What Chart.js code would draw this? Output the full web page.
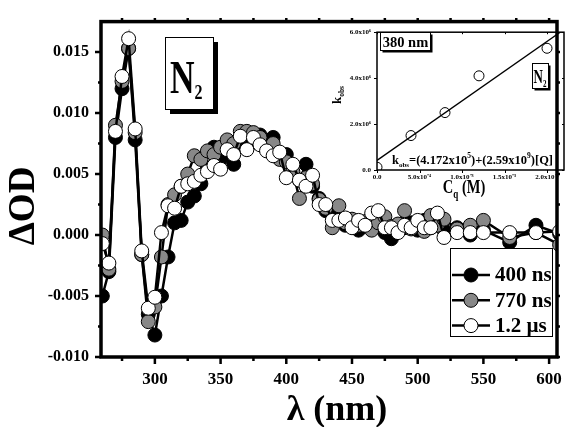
<!DOCTYPE html>
<html lang="en">
<head>
<meta charset="UTF-8">
<title>Transient absorption in N2</title>
<script src="https://cdn.jsdelivr.net/npm/chart.js"></script>
<style>
  * { margin: 0; padding: 0; box-sizing: border-box; }
  body { background: #fff; width: 574px; height: 427px; overflow: hidden; }
  .wrap { position: relative; width: 574px; height: 427px; }
  #spectra { position: absolute; left: 0; top: 0; }
  #kinetics { position: absolute; left: 330px; top: 22px; }
</style>
</head>
<body>
<div class="wrap">
  <canvas id="spectra" width="574" height="427"></canvas>
  <canvas id="kinetics" width="240" height="180"></canvas>
</div>
<script>
const SERIF = "'Liberation Serif', 'Times New Roman', serif";

// transient spectra, wavelength in nm
const wavelengths = [
  260, 265, 270, 275, 280, 285, 290, 295, 300, 305,
  310, 315, 320, 325, 330, 335, 340, 345, 350, 355,
  360, 365, 370, 375, 380, 385, 390, 395, 400, 405,
  410, 415, 420, 425, 430, 435, 440, 445, 450, 455,
  460, 465, 470, 475, 480, 485, 490, 495, 500, 505,
  510, 515, 520, 530, 540, 550, 570, 590, 608
];
const od400ns = [
  -0.0050, -0.0030, 0.0080, 0.0120, 0.0153, 0.0078, -0.0016, -0.0065, -0.0082, -0.0050,
  -0.0018, 0.0010, 0.0012, 0.0027, 0.0032, 0.0042, 0.0055, 0.0072, 0.0062, 0.0066,
  0.0058, 0.0074, 0.0078, 0.0076, 0.0082, 0.0077, 0.0080, 0.0064, 0.0066, 0.0050,
  0.0045, 0.0058, 0.0040, 0.0030, 0.0020, 0.0018, 0.0012, 0.0008, 0.0012, 0.0004,
  0.0010, 0.0006, 0.0013, 0.0002, -0.0003, 0.0008, 0.0006, 0.0010, 0.0004, 0.0012,
  0.0006, 0.0010, 0.0004, 0.0006, 0.0000, 0.0004, -0.0006, 0.0008, 0.0001
];
const od770ns = [
  0.0000, -0.0028, 0.0090, 0.0126, 0.0153, 0.0084, -0.0016, -0.0071, -0.0059, -0.0018,
  0.0025, 0.0033, 0.0040, 0.0050, 0.0065, 0.0062, 0.0069, 0.0066, 0.0072, 0.0078,
  0.0075, 0.0085, 0.0085, 0.0084, 0.0080, 0.0070, 0.0075, 0.0062, 0.0060, 0.0052,
  0.0030, 0.0047, 0.0042, 0.0029, 0.0022, 0.0006, 0.0024, 0.0010, 0.0013, 0.0008,
  0.0011, 0.0004, 0.0010, 0.0015, 0.0007, 0.0009, 0.0020, 0.0005, 0.0010, 0.0003,
  0.0016, 0.0008, 0.0013, 0.0005, 0.0008, 0.0012, -0.0002, 0.0002, -0.0008
];
const od1200ns = [
  -0.0007, -0.0023, 0.0085, 0.0130, 0.0161, 0.0087, -0.0013, -0.0060, -0.0051, 0.0002,
  0.0024, 0.0022, 0.0040, 0.0042, 0.0044, 0.0049, 0.0052, 0.0057, 0.0054, 0.0070,
  0.0066, 0.0081, 0.0070, 0.0080, 0.0074, 0.0069, 0.0065, 0.0068, 0.0047, 0.0058,
  0.0045, 0.0040, 0.0049, 0.0025, 0.0025, 0.0012, 0.0012, 0.0014, 0.0006, 0.0012,
  0.0008, 0.0018, 0.0020, 0.0006, 0.0006, 0.0002, 0.0008, 0.0006, 0.0012, 0.0006,
  0.0006, 0.0018, -0.0002, 0.0002, 0.0002, 0.0002, 0.0002, 0.0002, 0.0003
];

const seriesLabels = ['400 ns', '770 ns', '1.2 µs'];
const seriesFill = ['#000000', '#888888', '#ffffff'];

const xTicks = [300, 350, 400, 450, 500, 550, 600];
const xMinorTicks = [275, 325, 375, 425, 475, 525, 575];
const yTicks = [-0.010, -0.005, 0.000, 0.005, 0.010, 0.015];
const yMinorTicks = [-0.0075, -0.0025, 0.0025, 0.0075, 0.0125];

// inset: observed rate constant vs quencher concentration
const quencherConc = [0, 4.0e-4, 8.0e-4, 1.2e-3, 2.0e-3];
const kObs = [1.2e5, 1.5e6, 2.5e6, 4.1e6, 5.3e6];
const fitIntercept = 4.172e5;
const fitSlope = 2.59e9;
const insetXTicks = [0, 5e-4, 1e-3, 1.5e-3, 2e-3];
const insetXLabels = ['0.0', '5.0x10⁻⁴', '1.0x10⁻³', '1.5x10⁻³', '2.0x10⁻³'];
const insetYTicks = [0, 2e6, 4e6, 6e6];
const insetYLabels = ['0.0', '2.0x10⁶', '4.0x10⁶', '6.0x10⁶'];

// draws a run of text pieces (sub/superscripts) left to right
function drawParts(ctx, parts, x, y, center) {
  let total = 0;
  parts.forEach(p => {
    ctx.font = `${p.weight || 'bold'} ${p.size}px ${SERIF}`;
    p.width = ctx.measureText(p.t).width;
    total += p.width;
  });
  let cx = center ? x - total / 2 : x;
  parts.forEach(p => {
    ctx.font = `${p.weight || 'bold'} ${p.size}px ${SERIF}`;
    ctx.fillText(p.t, cx, y + (p.dy || 0));
    cx += p.width;
  });
}

function boxWithShadow(ctx, x, y, w, h, off) {
  ctx.fillStyle = '#000';
  ctx.fillRect(x + off, y + off, w, h);
  ctx.fillStyle = '#fff';
  ctx.fillRect(x, y, w, h);
  ctx.lineWidth = 1;
  ctx.strokeStyle = '#000';
  ctx.strokeRect(x + 0.5, y + 0.5, w, h);
}

const spectraDecor = {
  id: 'spectraDecor',
  afterDraw(chart) {
    const { ctx, chartArea: a, scales: { x, y } } = chart;
    ctx.save();
    ctx.strokeStyle = '#000';
    ctx.lineWidth = 2.5;
    ctx.beginPath();
    xTicks.forEach(v => {
      const px = x.getPixelForValue(v);
      ctx.moveTo(px, a.bottom); ctx.lineTo(px, a.bottom + 7);
      ctx.moveTo(px, a.top); ctx.lineTo(px, a.top - 3.5);
    });
    xMinorTicks.forEach(v => {
      const px = x.getPixelForValue(v);
      ctx.moveTo(px, a.bottom); ctx.lineTo(px, a.bottom + 4);
      ctx.moveTo(px, a.top); ctx.lineTo(px, a.top - 3.5);
    });
    yTicks.forEach(v => {
      const py = y.getPixelForValue(v);
      ctx.moveTo(a.left, py); ctx.lineTo(a.left - 6, py);
      ctx.moveTo(a.right, py); ctx.lineTo(a.right + 3, py);
    });
    yMinorTicks.forEach(v => {
      const py = y.getPixelForValue(v);
      ctx.moveTo(a.left, py); ctx.lineTo(a.left - 3, py);
      ctx.moveTo(a.right, py); ctx.lineTo(a.right + 3, py);
    });
    ctx.stroke();

    ctx.lineWidth = 3.5;
    ctx.strokeRect(a.left, a.top, a.right - a.left, a.bottom - a.top);

    // axis titles
    ctx.fillStyle = '#000';
    ctx.textAlign = 'center';
    ctx.textBaseline = 'middle';
    ctx.save();
    ctx.translate(24, 206);
    ctx.rotate(-Math.PI / 2);
    ctx.font = `bold 37px ${SERIF}`;
    ctx.fillText('ΔOD', 0, 0);
    ctx.restore();
    ctx.textBaseline = 'alphabetic';
    ctx.font = `bold 36px ${SERIF}`;
    ctx.fillText('λ (nm)', 337, 420);

    // N2 label
    ctx.textAlign = 'left';
    boxWithShadow(ctx, 165, 37, 48, 72, 5);
    ctx.fillStyle = '#000';
    ctx.save();
    ctx.translate(170, 93);
    ctx.scale(1, 1.35);
    drawParts(ctx, [
      { t: 'N', size: 34 },
      { t: '2', size: 16, dy: 4.5 }
    ], 0, 0, false);
    ctx.restore();

    // legend
    ctx.fillStyle = '#fff';
    ctx.fillRect(450, 248, 103, 89);
    ctx.lineWidth = 1;
    ctx.strokeRect(450.5, 248.5, 102, 88);
    chart.data.datasets.forEach((ds, i) => {
      const ly = 275 + 25.3 * i;
      ctx.strokeStyle = '#000';
      ctx.lineWidth = 2.5;
      ctx.beginPath();
      ctx.moveTo(452, ly); ctx.lineTo(490, ly);
      ctx.stroke();
      ctx.beginPath();
      ctx.arc(471, ly, 7, 0, Math.PI * 2);
      ctx.fillStyle = ds.pointBackgroundColor;
      ctx.fill();
      ctx.lineWidth = 1;
      ctx.stroke();
      ctx.fillStyle = '#000';
      ctx.textBaseline = 'middle';
      ctx.font = `bold 21px ${SERIF}`;
      ctx.fillText(ds.label, 495, ly + 1);
    });
    ctx.restore();
  }
};

const series = [od400ns, od770ns, od1200ns];
new Chart(document.getElementById('spectra'), {
  type: 'line',
  data: {
    datasets: series.map((vals, i) => ({
      label: seriesLabels[i],
      data: wavelengths.map((w, j) => ({ x: w, y: vals[j] })),
      order: 3 - i,
      borderColor: '#000',
      borderWidth: 2.5,
      pointRadius: 7,
      pointBorderWidth: 1,
      pointBorderColor: '#000',
      pointBackgroundColor: seriesFill[i],
      tension: 0
    }))
  },
  options: {
    responsive: false,
    animation: false,
    devicePixelRatio: 1,
    layout: { padding: { left: 0, top: 14, right: 5, bottom: 0 } },
    plugins: { legend: { display: false }, tooltip: { enabled: false } },
    scales: {
      x: {
        type: 'linear',
        min: 259,
        max: 606,
        afterBuildTicks: s => { s.ticks = xTicks.map(v => ({ value: v })); },
        afterFit: s => { s.height = 70; },
        grid: { display: false, drawTicks: false },
        border: { display: false },
        ticks: { color: '#000', padding: 12, maxRotation: 0, font: { family: SERIF, size: 17, weight: 'bold' } }
      },
      y: {
        min: -0.010,
        max: 0.0175,
        afterBuildTicks: s => { s.ticks = yTicks.map(v => ({ value: v })); },
        afterFit: s => { s.width = 101; },
        grid: { display: false, drawTicks: false },
        border: { display: false },
        ticks: {
          color: '#000',
          padding: 12,
          font: { family: SERIF, size: 16, weight: 'bold' },
          callback: v => v.toFixed(3)
        }
      }
    }
  },
  plugins: [spectraDecor]
});

const kineticsDecor = {
  id: 'kineticsDecor',
  afterDraw(chart) {
    const { ctx, chartArea: a, scales: { x, y } } = chart;
    ctx.save();
    ctx.strokeStyle = '#000';
    ctx.lineWidth = 1;
    ctx.beginPath();
    insetXTicks.forEach(v => {
      const px = Math.round(x.getPixelForValue(v)) + 0.5;
      ctx.moveTo(px, a.bottom); ctx.lineTo(px, a.bottom + 3);
      ctx.moveTo(px, a.top); ctx.lineTo(px, a.top + 2);
    });
    insetYTicks.forEach(v => {
      const py = Math.round(y.getPixelForValue(v)) + 0.5;
      ctx.moveTo(a.left, py); ctx.lineTo(a.left - 3, py);
      ctx.moveTo(a.right, py); ctx.lineTo(a.right - 2, py);
    });
    ctx.stroke();
    ctx.lineWidth = 1.5;
    ctx.strokeRect(a.left, a.top, a.right - a.left, a.bottom - a.top);

    ctx.fillStyle = '#000';
    ctx.textAlign = 'left';
    ctx.textBaseline = 'alphabetic';

    // fit equation
    drawParts(ctx, [
      { t: 'k', size: 12.5 },
      { t: 'obs', size: 7, dy: 3 },
      { t: '=(4.172x10', size: 12.5 },
      { t: '5', size: 7.5, dy: -6 },
      { t: ')+(2.59x10', size: 12.5 },
      { t: '9', size: 7.5, dy: -6 },
      { t: ')[Q]', size: 12.5 }
    ], 62, 142, false);

    // axis titles
    ctx.save();
    ctx.translate(134, 171);
    ctx.scale(1, 1.3);
    drawParts(ctx, [
      { t: 'C', size: 14.5 },
      { t: 'q', size: 9, dy: 4 },
      { t: ' (M)', size: 14.5 }
    ], 0, 0, true);
    ctx.restore();

    ctx.save();
    ctx.translate(11, 73);
    ctx.rotate(-Math.PI / 2);
    drawParts(ctx, [
      { t: 'k', size: 13 },
      { t: 'obs', size: 7.5, dy: 3 }
    ], 0, 0, true);
    ctx.restore();

    // wavelength box
    boxWithShadow(ctx, 50, 10, 50, 18, 2.5);
    ctx.fillStyle = '#000';
    ctx.textAlign = 'center';
    ctx.font = `bold 14.5px ${SERIF}`;
    ctx.fillText('380 nm', 75.5, 24.5);

    // N2 box
    ctx.textAlign = 'left';
    boxWithShadow(ctx, 202, 41, 16, 25, 2.5);
    ctx.fillStyle = '#000';
    ctx.save();
    ctx.translate(203.5, 61);
    ctx.scale(1, 1.4);
    drawParts(ctx, [
      { t: 'N', size: 13 },
      { t: '2', size: 7, dy: 3 }
    ], 0, 0, false);
    ctx.restore();
    ctx.restore();
  }
};

const insetMax = 2.2e-3;
new Chart(document.getElementById('kinetics'), {
  type: 'scatter',
  data: {
    datasets: [
      {
        data: quencherConc.map((c, i) => ({ x: c, y: kObs[i] })),
        pointRadius: 5,
        pointBorderWidth: 1,
        pointBorderColor: '#000',
        pointBackgroundColor: 'rgba(0,0,0,0)'
      },
      {
        type: 'line',
        data: [
          { x: 0, y: fitIntercept },
          { x: insetMax, y: fitIntercept + fitSlope * insetMax }
        ],
        borderColor: '#000',
        borderWidth: 1.3,
        pointRadius: 0
      }
    ]
  },
  options: {
    responsive: false,
    animation: false,
    devicePixelRatio: 1,
    layout: { padding: { left: 0, top: 6, right: 6, bottom: 0 } },
    plugins: { legend: { display: false }, tooltip: { enabled: false } },
    scales: {
      x: {
        type: 'linear',
        min: 0,
        max: insetMax,
        afterBuildTicks: s => { s.ticks = insetXTicks.map(v => ({ value: v })); },
        afterFit: s => { s.height = 32; },
        grid: { display: false, drawTicks: false },
        border: { display: false },
        ticks: {
          color: '#000',
          padding: 3,
          maxRotation: 0,
          font: { family: SERIF, size: 7, weight: 'bold' },
          callback: (v, i) => insetXLabels[i]
        }
      },
      y: {
        min: 0,
        max: 6.0e6,
        afterBuildTicks: s => { s.ticks = insetYTicks.map(v => ({ value: v })); },
        afterFit: s => { s.width = 47; },
        grid: { display: false, drawTicks: false },
        border: { display: false },
        ticks: {
          color: '#000',
          padding: 6,
          font: { family: SERIF, size: 7, weight: 'bold' },
          callback: (v, i) => insetYLabels[i]
        }
      }
    }
  },
  plugins: [kineticsDecor]
});
</script>
</body>
</html>
